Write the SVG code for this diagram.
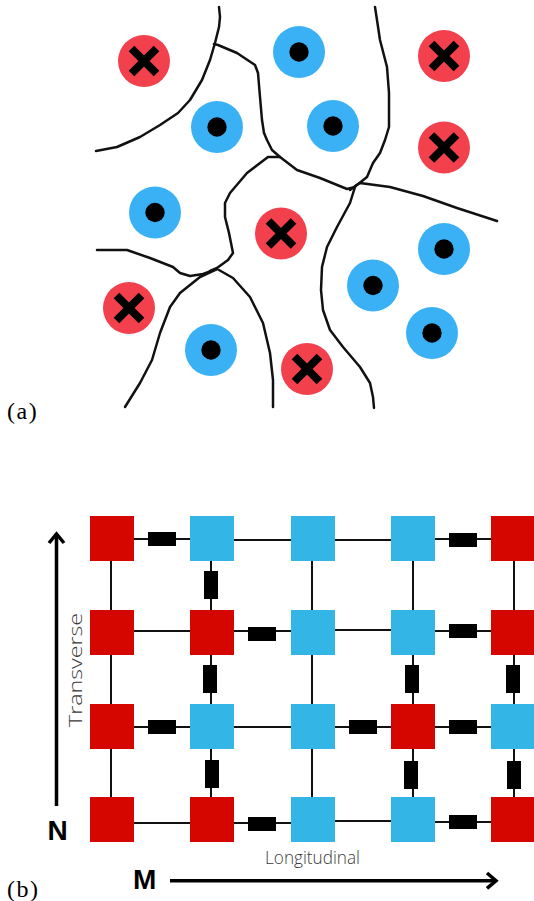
<svg xmlns="http://www.w3.org/2000/svg" width="534" height="901" viewBox="0 0 534 901">
<style>
.bd{fill:none;stroke:#111;stroke-width:2.5;stroke-linejoin:round;stroke-linecap:round}
.red{fill:#F2404D}
.blue{fill:#3BB1F5}
.dot{fill:#000}
.x{stroke:#000;stroke-width:8;stroke-linecap:butt}
.sqr{fill:#D50600}
.sqb{fill:#33B5E5}
.w{fill:none;stroke:#111;stroke-width:2}
.res{fill:#000}
.ar{fill:none;stroke:#000;stroke-width:3.5;stroke-linecap:butt;stroke-linejoin:miter}
.lbl{font-family:'Open Sans','Liberation Sans',sans-serif;font-weight:300;font-size:19px;fill:#3a3a3a}
.big{font-family:'Liberation Sans',Arial,sans-serif;font-weight:bold;font-size:28px;fill:#000}
.cap{font-family:'Liberation Serif','Times New Roman',serif;font-size:24px;letter-spacing:1.5px;fill:#000}
</style>
<defs>
<g id="xm"><line class="x" x1="-12.5" y1="-12.5" x2="12.5" y2="12.5"/><line class="x" x1="-12.5" y1="12.5" x2="12.5" y2="-12.5"/></g>
</defs>

<!-- (a) boundaries -->
<g id="boundaries">
<polyline class="bd" points="96,151 117,147 140,137 160,125 178,113 190,100 202,80 210,60 215,43 219,27 220,17 219,7"/>
<polyline class="bd" points="214,44 218,45 237,53 255,65 258,73 260,97 262,120 264,133 267,140 272,150 280,157 297,170 320,178 347,189 355,187"/>
<polyline class="bd" points="375,7 377,20 380,40 387,67 389,93 389,127 385,140 380,153 373,163 367,177 357,185 350,190"/>
<polyline class="bd" points="355,186 360,183 390,187 423,196 457,208 497,221"/>
<polyline class="bd" points="355,187 350,203 337,227 327,247 322,267 321,290 323,310 330,330 343,347 360,367 370,383 373,397 374,408"/>
<polyline class="bd" points="280,157 268,157 247,173 230,193 225,203 225,217 229,233 233,253 228,260 217,268 210,271"/>
<polyline class="bd" points="97,250 127,250 150,258 173,267 180,273 190,276 203,274 217,269"/>
<polyline class="bd" points="217,269 200,277 180,293 170,307 160,333 152,360 140,383 125,407"/>
<polyline class="bd" points="219,270 233,278 250,297 263,323 270,353 273,380 273,407"/>
</g>

<!-- (a) particles -->
<g id="r1"><circle class="red" cx="144" cy="61" r="26"/><use href="#xm" x="144" y="61"/></g>
<g id="r2"><circle class="red" cx="444" cy="56" r="26"/><use href="#xm" x="444" y="56"/></g>
<g id="r3"><circle class="red" cx="444" cy="147.5" r="26"/><use href="#xm" x="444" y="147.5"/></g>
<g id="r4"><circle class="red" cx="281" cy="233.5" r="26"/><use href="#xm" x="281" y="233.5"/></g>
<g id="r5"><circle class="red" cx="129" cy="308" r="26"/><use href="#xm" x="129" y="308"/></g>
<g id="r6"><circle class="red" cx="307" cy="369" r="26"/><use href="#xm" x="307" y="369"/></g>
<g id="b1"><circle class="blue" cx="299" cy="52" r="26"/><circle class="dot" cx="299" cy="52" r="9.7"/></g>
<g id="b2"><circle class="blue" cx="217" cy="127" r="26"/><circle class="dot" cx="217" cy="127" r="9.7"/></g>
<g id="b3"><circle class="blue" cx="333" cy="126" r="26"/><circle class="dot" cx="333" cy="126" r="9.7"/></g>
<g id="b4"><circle class="blue" cx="155" cy="212.5" r="26"/><circle class="dot" cx="155" cy="212.5" r="9.7"/></g>
<g id="b5"><circle class="blue" cx="444" cy="249" r="26"/><circle class="dot" cx="444" cy="249" r="9.7"/></g>
<g id="b6"><circle class="blue" cx="373" cy="285.5" r="26"/><circle class="dot" cx="373" cy="285.5" r="9.7"/></g>
<g id="b7"><circle class="blue" cx="432" cy="333" r="26"/><circle class="dot" cx="432" cy="333" r="9.7"/></g>
<g id="b8"><circle class="blue" cx="211" cy="350" r="26"/><circle class="dot" cx="211" cy="350" r="9.7"/></g>

<text class="cap" x="7" y="419">(a)</text>

<!-- (b) connectors -->
<g id="connectors">
<line class="w" x1="112" y1="539" x2="212" y2="539"/>
<line class="w" x1="212" y1="540" x2="313" y2="540"/>
<line class="w" x1="313" y1="540" x2="413" y2="540"/>
<line class="w" x1="413" y1="539" x2="513" y2="539"/>
<line class="w" x1="112" y1="631" x2="212" y2="631"/>
<line class="w" x1="212" y1="631" x2="313" y2="631"/>
<line class="w" x1="313" y1="630" x2="413" y2="630"/>
<line class="w" x1="413" y1="631" x2="513" y2="631"/>
<line class="w" x1="112" y1="727" x2="212" y2="727"/>
<line class="w" x1="212" y1="727" x2="313" y2="727"/>
<line class="w" x1="313" y1="727" x2="413" y2="727"/>
<line class="w" x1="413" y1="727" x2="513" y2="727"/>
<line class="w" x1="112" y1="823" x2="212" y2="823"/>
<line class="w" x1="212" y1="823" x2="313" y2="823"/>
<line class="w" x1="313" y1="821" x2="413" y2="821"/>
<line class="w" x1="413" y1="822" x2="513" y2="822"/>
<line class="w" x1="111" y1="538" x2="111" y2="820"/>
<line class="w" x1="211" y1="538" x2="211" y2="820"/>
<line class="w" x1="312" y1="538" x2="312" y2="820"/>
<line class="w" x1="413" y1="538" x2="413" y2="820"/>
<line class="w" x1="514" y1="538" x2="514" y2="820"/>
</g>

<g id="resistors">
<rect class="res" x="148" y="532" width="28" height="14"/>
<rect class="res" x="449" y="533" width="28" height="14"/>
<rect class="res" x="248" y="627" width="28" height="14"/>
<rect class="res" x="449" y="624" width="28" height="14"/>
<rect class="res" x="148" y="720" width="28" height="14"/>
<rect class="res" x="349" y="720" width="28" height="14"/>
<rect class="res" x="449" y="720" width="28" height="14"/>
<rect class="res" x="248" y="817" width="28" height="14"/>
<rect class="res" x="449" y="815" width="28" height="14"/>
<rect class="res" x="204" y="571" width="14" height="28"/>
<rect class="res" x="203" y="665" width="14" height="28"/>
<rect class="res" x="405" y="665" width="14" height="28"/>
<rect class="res" x="506" y="665" width="14" height="28"/>
<rect class="res" x="205" y="760" width="14" height="28"/>
<rect class="res" x="404" y="761" width="14" height="28"/>
<rect class="res" x="507" y="761" width="14" height="28"/>
</g>

<!-- (b) nodes -->
<g id="n11"><rect class="sqr" x="90" y="516" width="44" height="45"/></g>
<g id="n12"><rect class="sqb" x="190" y="516" width="44" height="45"/></g>
<g id="n13"><rect class="sqb" x="291" y="516" width="44" height="45"/></g>
<g id="n14"><rect class="sqb" x="391" y="516" width="44" height="45"/></g>
<g id="n15"><rect class="sqr" x="491" y="516" width="44" height="45"/></g>
<g id="n21"><rect class="sqr" x="90" y="610" width="44" height="45"/></g>
<g id="n22"><rect class="sqr" x="190" y="610" width="44" height="45"/></g>
<g id="n23"><rect class="sqb" x="291" y="610" width="44" height="45"/></g>
<g id="n24"><rect class="sqb" x="391" y="610" width="44" height="45"/></g>
<g id="n25"><rect class="sqr" x="491" y="610" width="44" height="45"/></g>
<g id="n31"><rect class="sqr" x="90" y="704" width="44" height="45"/></g>
<g id="n32"><rect class="sqb" x="190" y="704" width="44" height="45"/></g>
<g id="n33"><rect class="sqb" x="291" y="704" width="44" height="45"/></g>
<g id="n34"><rect class="sqr" x="391" y="704" width="44" height="45"/></g>
<g id="n35"><rect class="sqb" x="491" y="704" width="44" height="45"/></g>
<g id="n41"><rect class="sqr" x="90" y="797" width="44" height="45"/></g>
<g id="n42"><rect class="sqr" x="190" y="797" width="44" height="45"/></g>
<g id="n43"><rect class="sqb" x="291" y="797" width="44" height="45"/></g>
<g id="n44"><rect class="sqb" x="391" y="797" width="44" height="45"/></g>
<g id="n45"><rect class="sqr" x="491" y="797" width="44" height="45"/></g>

<!-- axes -->
<g id="axes">
<line class="ar" x1="56.5" y1="806" x2="56.5" y2="534"/>
<polyline class="ar" points="49,543 56.5,534 64,543"/>
<line class="ar" x1="170" y1="880.7" x2="496" y2="880.7"/>
<polyline class="ar" points="487,873 496,880.7 487,888.4"/>
</g>

<text class="lbl" transform="translate(81.5,727) rotate(-90)" textLength="114" lengthAdjust="spacingAndGlyphs">Transverse</text>
<text class="lbl" x="265" y="864.3" textLength="95" lengthAdjust="spacingAndGlyphs">Longitudinal</text>
<text class="big" x="47.5" y="840">N</text>
<text class="big" x="133" y="889">M</text>
<text class="cap" x="7" y="897">(b)</text>
</svg>
